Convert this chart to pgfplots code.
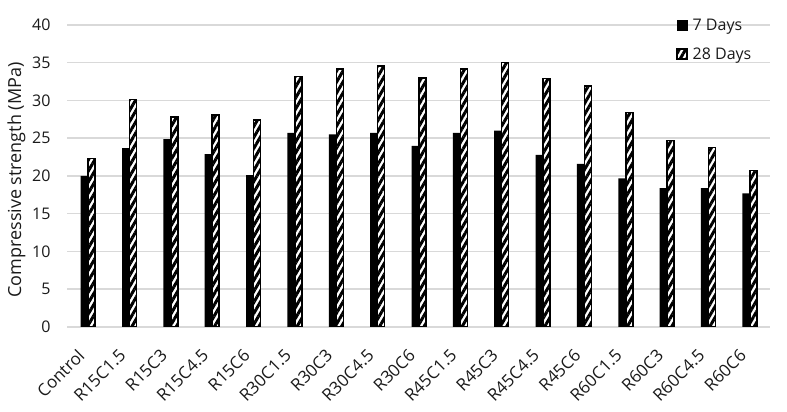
\documentclass[border=0pt]{standalone}
\usepackage{fontspec}
\setmainfont{Open Sans}
\usepackage{pgfplots}
\pgfplotsset{compat=1.18}
\usetikzlibrary{patterns.meta}
\definecolor{gridc}{HTML}{D9D9D9}
\definecolor{txt}{HTML}{1A1A1A}
\begin{document}
\begin{tikzpicture}
\path[use as bounding box] (0,0) rectangle (787bp,412bp);
\begin{axis}[
  at={(67bp,85bp)}, anchor=south west,
  scale only axis, width=703bp, height=302bp,
  xmin=-0.5, xmax=16.5, ymin=0, ymax=40,
  ytick={0,5,...,40},
  xtick={0,...,16},
  xticklabels={Control,R15C1.5,R15C3,R15C4.5,R15C6,R30C1.5,R30C3,R30C4.5,R30C6,R45C1.5,R45C3,R45C4.5,R45C6,R60C1.5,R60C3,R60C4.5,R60C6},
  axis y line*=left, y axis line style={draw=none},
  axis x line*=bottom, x axis line style={draw=gridc, line width=1.5bp},
  ymajorgrids, grid style={gridc, line width=1.5bp},
  major tick length=0pt,
  /pgf/number format/assume math mode=true,
  yticklabel style={font=\fontsize{16bp}{18bp}\selectfont, text=txt, xshift=-13bp},
  xticklabel style={font=\fontsize{17bp}{20bp}\selectfont, text=txt, xshift=-4bp, yshift=-23bp, rotate=45, anchor=east},
  ylabel={Compressive strength (MPa)},
  every axis y label/.style={at={(ticklabel cs:0.5)}, rotate=90, anchor=south, xshift=-4bp,
     font=\fontsize{18bp}{20bp}\selectfont, text=txt},
  ybar, bar width=7bp,
  legend style={at={(0.862,1.035)}, anchor=north west, draw=none, fill=none,
    font=\fontsize{16bp}{18bp}\selectfont, text=txt, row sep=12bp},
  legend cell align=left,
  legend image code/.code={\draw[#1, bar shift=0pt] (0bp,-5bp) rectangle (10bp,5bp); \path (13bp,0bp);},
]
\addplot[fill=black, draw=none, bar shift=-3.5bp] coordinates {
(0,20.0) (1,23.7) (2,24.9) (3,22.9) (4,20.1) (5,25.7) (6,25.5) (7,25.7) (8,24.0)
(9,25.7) (10,26.0) (11,22.8) (12,21.6) (13,19.7) (14,18.4) (15,18.4) (16,17.7)};
\addlegendentry{7 Days}
\addplot[fill=white, draw=black, line width=1.5bp, bar shift=4bp,
  postaction={pattern={Lines[angle=60,distance=5.5bp,line width=3bp]}, pattern color=black}] coordinates {
(0,22.3) (1,30.1) (2,27.8) (3,28.1) (4,27.4) (5,33.2) (6,34.2) (7,34.6) (8,33.0)
(9,34.2) (10,35.0) (11,32.9) (12,31.9) (13,28.4) (14,24.7) (15,23.8) (16,20.7)};
\addlegendentry{28 Days}
\end{axis}
\end{tikzpicture}
\end{document}
